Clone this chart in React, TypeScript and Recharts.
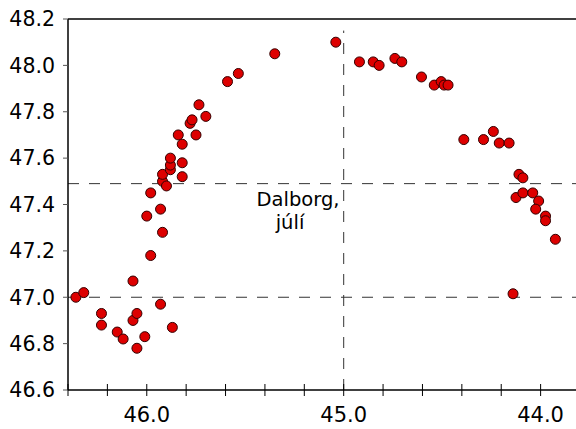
import React from "react";
import {
  ScatterChart,
  Scatter,
  XAxis,
  YAxis,
  ReferenceLine,
  ReferenceDot,
} from "recharts";

// Longitude (°W, shown on a reversed axis) and latitude (°N) of each site
const longitudes = [
  46.36, 46.32, 46.23, 46.23, 46.15, 46.12, 46.07, 46.07, 46.05, 46.05,
  46.01, 46.0, 45.98, 45.93, 45.92, 45.93, 45.87, 45.98, 45.92, 45.9,
  45.92, 45.88, 45.88, 45.88, 45.82, 45.82, 45.82, 45.84, 45.75, 45.78,
  45.77, 45.735, 45.7, 45.59, 45.535, 45.35,
  45.04, 44.92, 44.85, 44.82, 44.74, 44.705, 44.605, 44.54, 44.505, 44.49,
  44.47, 44.39, 44.29, 44.24, 44.21, 44.16, 44.11, 44.09, 44.125, 44.09,
  44.04, 44.01, 44.025, 43.975, 43.975, 43.925, 44.14,
];
const latitudes = [
  47.0, 47.02, 46.93, 46.88, 46.85, 46.82, 47.07, 46.9, 46.93, 46.78,
  46.83, 47.35, 47.18, 47.38, 47.28, 46.97, 46.87, 47.45, 47.5, 47.48,
  47.53, 47.55, 47.57, 47.6, 47.52, 47.58, 47.66, 47.7, 47.7, 47.75,
  47.765, 47.83, 47.78, 47.93, 47.965, 48.05,
  48.1, 48.015, 48.015, 48.0, 48.03, 48.015, 47.95, 47.915, 47.93, 47.915,
  47.915, 47.68, 47.68, 47.715, 47.665, 47.665, 47.53, 47.515, 47.43, 47.45,
  47.45, 47.415, 47.38, 47.35, 47.33, 47.25, 47.015,
];

const xTicks = [43.8, 44.0, 44.2, 44.4, 44.6, 44.8, 45.0, 45.2, 45.4, 45.6, 45.8, 46.0, 46.2, 46.4];
const xLabelTicks = [44.0, 45.0, 46.0];
const yTicks = [46.6, 46.8, 47.0, 47.2, 47.4, 47.6, 47.8, 48.0, 48.2];

const hLines = [47.49, 47.0];
const vLineX = 45.0;
const vLineTop = 48.15;
const annotationLines = ["Dalborg,", "júlí"];
const annotationPos = { x: 45.232, y: 47.394 };

const points = longitudes.map((x, i) => ({ x, y: latitudes[i] }));

const FONT = "'DejaVu Sans', 'Liberation Sans', Arial, sans-serif";

const XTick = (props: any) => {
  const { x, y, payload } = props;
  const v = payload.value;
  const labeled = xLabelTicks.some((t) => Math.abs(t - v) < 1e-6);
  return (
    <g>
      <line x1={x} x2={x} y1={y - 6} y2={y + 6} stroke="#000" strokeWidth={1} />
      {labeled && (
        <text
          x={x}
          y={y + 32}
          textAnchor="middle"
          fontFamily={FONT}
          fontSize={21}
          fill="#000"
        >
          {v.toFixed(1)}
        </text>
      )}
    </g>
  );
};

const Dot = (props: any) => {
  const { cx, cy } = props;
  if (cx == null || cy == null) return null;
  return <circle cx={cx} cy={cy} r={5} fill="#dd0000" stroke="#330000" strokeWidth={1} />;
};

const AnnotationShape = (props: any) => {
  const { cx, cy } = props;
  return (
    <text fontFamily={FONT} fontSize={19.5} fill="#000" textAnchor="middle">
      <tspan x={cx} y={cy}>
        {annotationLines[0]}
      </tspan>
      <tspan x={cx - 8} y={cy + 23}>
        {annotationLines[1]}
      </tspan>
    </text>
  );
};

export default function App() {
  return (
    <div
      style={{
        position: "absolute",
        left: 0,
        top: 0,
        width: 576,
        height: 429,
        overflow: "hidden",
        background: "#fff",
      }}
    >
      <ScatterChart
        width={600}
        height={429}
        margin={{ top: 19, right: 20, bottom: 0, left: 8 }}
      >
        <XAxis
          type="number"
          dataKey="x"
          domain={[43.8, 46.4]}
          reversed
          ticks={xTicks}
          interval={0}
          allowDataOverflow
          height={39}
          tickSize={0}
          tickMargin={0}
          tick={<XTick />}
          axisLine={{ stroke: "#000", strokeWidth: 1.5 }}
        />
        <YAxis
          type="number"
          dataKey="y"
          domain={[46.6, 48.2]}
          ticks={yTicks}
          interval={0}
          allowDataOverflow
          width={60}
          tickSize={5}
          tickMargin={8}
          tickFormatter={(v: number) => v.toFixed(1)}
          tick={{ fontFamily: FONT, fontSize: 20.5, fill: "#000" }}
          tickLine={{ stroke: "#555" }}
          axisLine={{ stroke: "#000", strokeWidth: 1.5 }}
        />
        <ReferenceLine y={48.2} stroke="#000" strokeWidth={1.5} />
        {hLines.map((v) => (
          <ReferenceLine
            key={v}
            y={v}
            stroke="#333"
            strokeWidth={1}
            strokeDasharray="11 10"
          />
        ))}
        <ReferenceLine
          segment={[
            { x: vLineX, y: 46.6 },
            { x: vLineX, y: vLineTop },
          ]}
          stroke="#333"
          strokeWidth={1}
          strokeDasharray="11 10"
        />
        <ReferenceDot
          x={annotationPos.x}
          y={annotationPos.y}
          r={0}
          shape={<AnnotationShape />}
        />
        <Scatter data={points} shape={<Dot />} isAnimationActive={false} />
      </ScatterChart>
    </div>
  );
}
